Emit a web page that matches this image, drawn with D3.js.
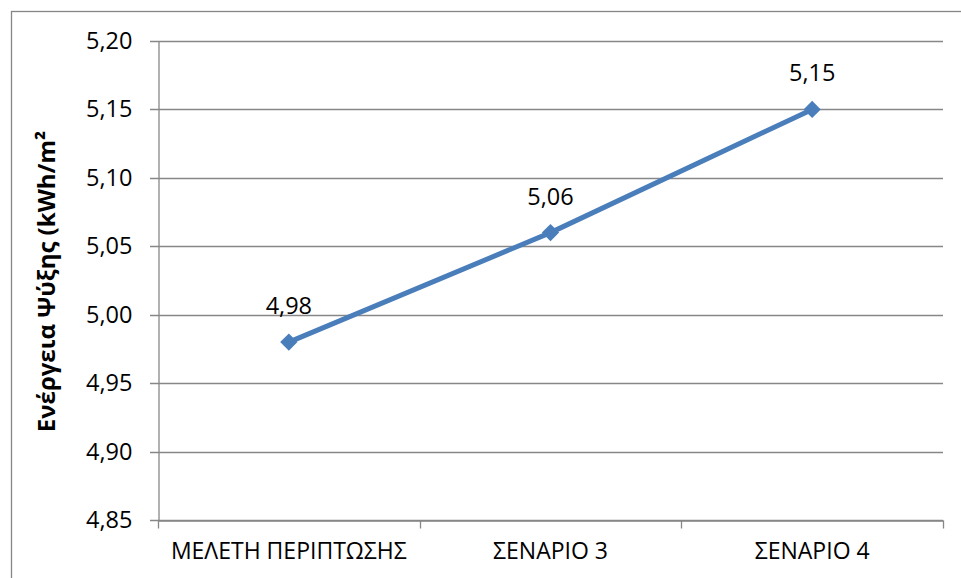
<!DOCTYPE html>
<html><head><meta charset="utf-8">
<script src="https://cdn.jsdelivr.net/npm/d3@7"></script>
<style>body{margin:0;background:#fff;}svg{display:block;}</style>
</head><body>
<svg id="c" width="961" height="578"></svg>
<script>
const categories = ["ΜΕΛΕΤΗ ΠΕΡΙΠΤΩΣΗΣ", "ΣΕΝΑΡΙΟ 3", "ΣΕΝΑΡΙΟ 4"];
const values = [4.98, 5.06, 5.15];
const yTicks = [4.85, 4.90, 4.95, 5.00, 5.05, 5.10, 5.15, 5.20];
const yTitle = "Ενέργεια Ψύξης (kWh/m²";

const svg = d3.select("#c");
const font = "'Open Sans', sans-serif";
const m = {l:158, r:943, t:41, b:520};
const fmt = v => v.toFixed(2).replace(".", ",");

svg.append("rect").attr("x",11.5).attr("y",11.5).attr("width",970).attr("height",600)
  .attr("fill","none").attr("stroke","#868686").attr("stroke-width",1.3);

const x = d3.scaleBand().domain(categories).range([m.l, m.r]).padding(0);
const y = d3.scaleLinear().domain([4.85, 5.20]).range([m.b, m.t]);

// gridlines
svg.append("g").selectAll("line").data(yTicks).join("line")
  .attr("x1", m.l-8).attr("x2", m.r)
  .attr("y1", d=>Math.round(y(d))+0.5).attr("y2", d=>Math.round(y(d))+0.5)
  .attr("stroke","#878787").attr("stroke-width",1.3);

// y axis
const ya = svg.append("g").attr("transform",`translate(${m.l+0.5},0)`)
  .call(d3.axisLeft(y).tickValues(yTicks).tickFormat(fmt).tickSize(0).tickPadding(26));
ya.select(".domain").attr("stroke","#878787").attr("stroke-width",1.3);
ya.selectAll("text").attr("font-family",font).attr("font-size",23.5).attr("fill","#000");

// x axis
const xa = svg.append("g").attr("transform",`translate(0,${Math.round(y(4.85))+0.5})`)
  .call(d3.axisBottom(x).tickSize(0).tickPadding(22));
xa.select(".domain").attr("stroke","#878787").attr("stroke-width",1.3);
xa.selectAll("text").attr("font-family",font).attr("font-size",23).attr("fill","#000");
const bounds = [m.l, ...categories.map(c=>x(c)+x.bandwidth())];
xa.selectAll(".bt").data(bounds).join("line").attr("class","bt")
  .attr("x1",d=>Math.round(d)+0.5).attr("x2",d=>Math.round(d)+0.5)
  .attr("y1",0).attr("y2",8).attr("stroke","#878787").attr("stroke-width",1.3);

// y title
svg.append("text").attr("transform",`translate(55,${(m.t+m.b)/2+1}) rotate(-90)`)
  .attr("text-anchor","middle").attr("font-family",font).attr("font-weight","bold")
  .attr("font-size",24).text(yTitle);

const cx = c => x(c) + x.bandwidth()/2;
const pts = categories.map((c,i)=>({c, v:values[i]}));
svg.append("path").datum(pts)
  .attr("d", d3.line().x(d=>cx(d.c)).y(d=>y(d.v)))
  .attr("fill","none").attr("stroke","#4A7EBB").attr("stroke-width",5);
svg.append("g").selectAll("path").data(pts).join("path")
  .attr("d", d3.symbol(d3.symbolDiamond2 || d3.symbolSquare, 190))
  .attr("transform", d=>`translate(${cx(d.c)},${y(d.v)}) rotate(${d3.symbolDiamond2?0:45})`)
  .attr("fill","#4A7EBB");
svg.append("g").selectAll("text").data(pts).join("text")
  .attr("x", d=>cx(d.c)).attr("y", d=>y(d.v)-28)
  .attr("text-anchor","middle").attr("font-family",font).attr("font-size",23.5)
  .text(d=>fmt(d.v));
</script>
</body></html>
